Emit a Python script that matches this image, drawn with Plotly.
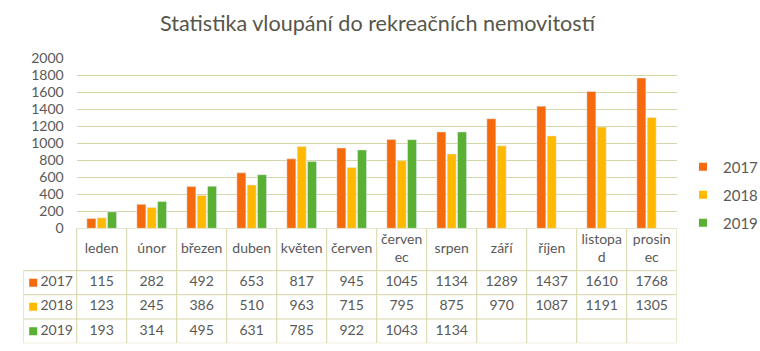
import plotly.graph_objects as go

# ---------------- data ----------------
months = ["leden", "únor", "březen", "duben", "květen", "červen",
          "červenec", "srpen", "září", "říjen", "listopad", "prosinec"]
month_labels = ["leden", "únor", "březen", "duben", "květen", "červen",
                "červen<br>ec", "srpen", "září", "říjen", "listopa<br>d", "prosin<br>ec"]
series_names = ["2017", "2018", "2019"]
v2017 = [115, 282, 492, 653, 817, 945, 1045, 1134, 1289, 1437, 1610, 1768]
v2018 = [123, 245, 386, 510, 963, 715, 795, 875, 970, 1087, 1191, 1305]
v2019 = [193, 314, 495, 631, 785, 922, 1043, 1134, None, None, None, None]
colors = ["#F46A0C", "#FFB900", "#59B032"]
y_ticks = list(range(0, 2001, 200))

# ---------------- layout constants (pixels) ----------------
W, H = 760, 351
PLOT_L, PLOT_R = 76.7, 676.7
TABLE_L = 23.3
PLOT_TOP, PLOT_BOT = 58.3, 228.3
ROW_EDGES_PX = [228.3, 270.7, 294.7, 319.0, 343.3]  # header top, header bottom, rows...
TEXT_COLOR = "#595959"
GRID_COLOR = "#D6D6A8"
FONT = "Lato"
TABLE_FONT_SIZE = 14

unit = (PLOT_R - PLOT_L) / len(months)
x2_left = -0.5 - (PLOT_L - TABLE_L) / unit
x2_right = len(months) - 0.5
tb_bottom = ROW_EDGES_PX[-1]
row_edges = [tb_bottom - p for p in ROW_EDGES_PX]  # y2 units (pixels from bottom)

fig = go.Figure()

series = [v2017, v2018, v2019]
for name, vals, col in zip(series_names, series, colors):
    fig.add_trace(go.Bar(x=months, y=vals, name=name, marker_color=col,
                         showlegend=False, xaxis="x", yaxis="y"))
    # legend entries with small square symbol
    fig.add_trace(go.Scatter(x=[None], y=[None], mode="markers", name=name,
                             marker=dict(symbol="square", size=8, color=col),
                             legendgroup=name, xaxis="x", yaxis="y"))

# ---------------- table ----------------
idx = list(range(len(months)))
header_y = (row_edges[0] + row_edges[1]) / 2
fig.add_trace(go.Scatter(x=idx, y=[header_y] * len(idx), text=month_labels,
                         mode="text",
                         textfont=dict(family=FONT, size=TABLE_FONT_SIZE, color=TEXT_COLOR),
                         showlegend=False, hoverinfo="skip", xaxis="x2", yaxis="y2"))
for r, (name, vals, col) in enumerate(zip(series_names, series, colors)):
    yc = (row_edges[r + 1] + row_edges[r + 2]) / 2
    txt = ["" if v is None else str(v) for v in vals]
    fig.add_trace(go.Scatter(x=idx, y=[yc] * len(idx), text=txt, mode="text",
                             textfont=dict(family=FONT, size=TABLE_FONT_SIZE, color=TEXT_COLOR),
                             showlegend=False, hoverinfo="skip", xaxis="x2", yaxis="y2"))
    # row label: coloured square + year
    sq_x = x2_left + (33.2 - TABLE_L) / unit
    tx_x = x2_left + (40.5 - TABLE_L) / unit
    fig.add_trace(go.Scatter(x=[sq_x], y=[yc], mode="markers",
                             marker=dict(symbol="square", size=8, color=col),
                             showlegend=False, hoverinfo="skip", xaxis="x2", yaxis="y2"))
    fig.add_trace(go.Scatter(x=[tx_x], y=[yc], mode="text", text=[name],
                             textposition="middle right",
                             textfont=dict(family=FONT, size=TABLE_FONT_SIZE, color=TEXT_COLOR),
                             showlegend=False, hoverinfo="skip", xaxis="x2", yaxis="y2"))

shapes = []
line = dict(color=GRID_COLOR, width=1)
# vertical lines between categories (full table height)
for b in [i - 0.5 for i in range(len(months) + 1)]:
    shapes.append(dict(type="line", xref="x2", yref="y2", x0=b, x1=b,
                       y0=row_edges[-1], y1=row_edges[0], line=line))
# left border of row-label column (data rows only)
shapes.append(dict(type="line", xref="x2", yref="y2", x0=x2_left, x1=x2_left,
                   y0=row_edges[-1], y1=row_edges[1], line=line))
# horizontal lines
shapes.append(dict(type="line", xref="x2", yref="y2", x0=-0.5, x1=x2_right,
                   y0=row_edges[0], y1=row_edges[0], line=line))
for e in row_edges[1:]:
    shapes.append(dict(type="line", xref="x2", yref="y2", x0=x2_left, x1=x2_right,
                       y0=e, y1=e, line=line))

fig.update_layout(
    width=W, height=H,
    margin=dict(l=0, r=0, t=0, b=0, autoexpand=False),
    paper_bgcolor="white", plot_bgcolor="white",
    font=dict(family=FONT, color=TEXT_COLOR),
    title=dict(text="Statistika vloupání do rekreačních nemovitostí",
               x=(158 + 597) / 2 / W, xanchor="center",
               y=1 - 23 / H, yanchor="middle",
               font=dict(family=FONT, size=21.6, color="#57564A")),
    barmode="group", bargap=0.38, bargroupgap=0.13,
    xaxis=dict(domain=[PLOT_L / W, PLOT_R / W], range=[-0.5, len(months) - 0.5],
               type="category", categoryarray=months, categoryorder="array",
               showticklabels=False, showgrid=False, zeroline=False,
               showline=False, fixedrange=True, anchor="y"),
    yaxis=dict(domain=[1 - PLOT_BOT / H, 1 - PLOT_TOP / H], range=[0, 2000],
               tickvals=y_ticks, ticks="", ticklabelstandoff=12,
               tickfont=dict(family=FONT, size=14, color=TEXT_COLOR),
               showgrid=True, gridcolor=GRID_COLOR, gridwidth=1,
               zeroline=False, showline=False, fixedrange=True, anchor="x"),
    xaxis2=dict(domain=[TABLE_L / W, PLOT_R / W], range=[x2_left, x2_right],
                visible=False, fixedrange=True, anchor="y2"),
    yaxis2=dict(domain=[1 - tb_bottom / H, 1 - ROW_EDGES_PX[0] / H],
                range=[0, row_edges[0]], visible=False, fixedrange=True, anchor="x2"),
    shapes=shapes,
    legend=dict(x=683 / W, xanchor="left", y=1 - 195 / H, yanchor="middle",
                font=dict(family=FONT, size=15, color=TEXT_COLOR),
                tracegroupgap=5.5, traceorder="grouped", itemwidth=30,
                bgcolor="rgba(0,0,0,0)"),
    showlegend=True,
)

fig.write_html("out.html")
